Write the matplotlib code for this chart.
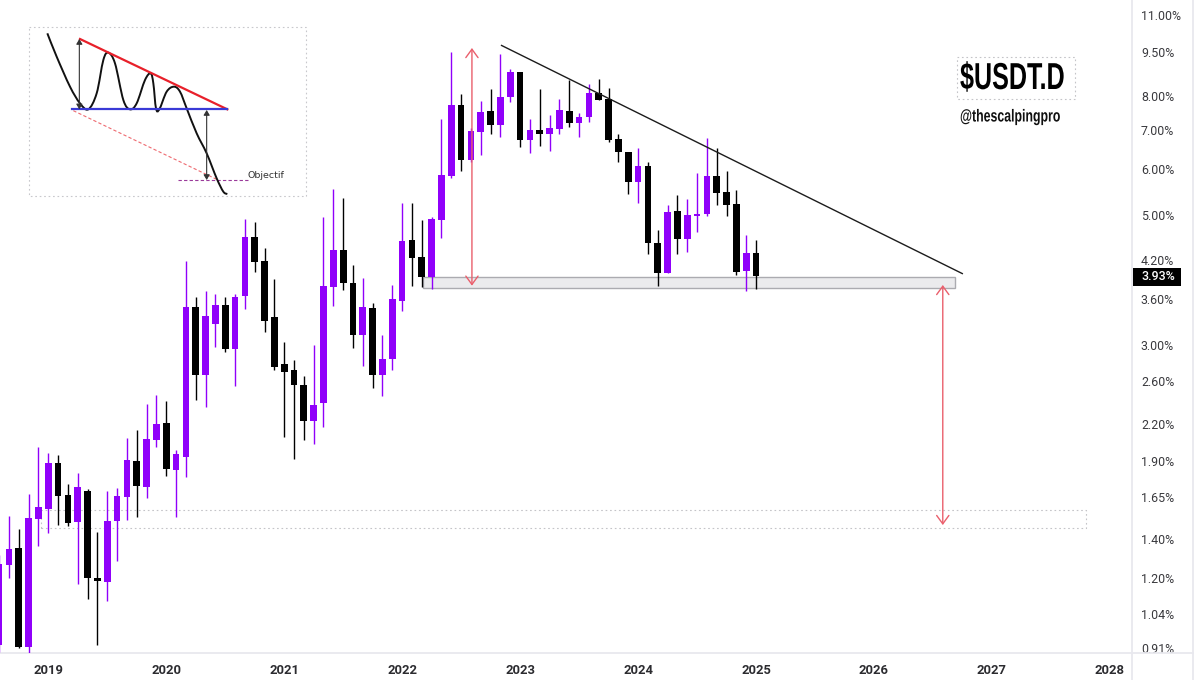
import matplotlib
matplotlib.use("Agg")
import matplotlib.pyplot as plt
import numpy as np
from matplotlib.patches import Rectangle, PathPatch
from matplotlib.path import Path
from matplotlib.patheffects import AbstractPathEffect
from matplotlib.transforms import Affine2D

# Monthly candles, Aug 2018 .. Jan 2025 (percent dominance)
first_month = -5  # months relative to Jan 2019
highs = [1.312,1.530,1.454,1.669,2.008,1.961,1.945,1.735,1.812,1.702,1.437,1.688,1.708,2.080,2.146,2.378,2.464,
         2.406,1.984,4.176,3.623,3.71,3.668,3.623,3.668,4.926,4.869,4.395,3.89,
         3.035,2.828,2.655,3.0,4.964,5.54,5.35,4.11,3.906,3.538,3.12,3.80,
         5.246,5.246,4.907,4.963,7.305,9.51,8.06,7.05,7.84,8.22,9.43,8.89,
         8.79,7.31,8.22,7.42,7.90,8.52,7.48,8.39,8.55,8.25,6.89,6.415,
         6.52,6.17,4.72,5.205,5.415,5.33,5.90,6.78,6.52,5.95,5.52,4.62,4.535]
tops = [1.267,1.343,1.349,1.518,1.585,1.885,1.885,1.662,1.715,1.688,1.198,1.500,1.654,1.907,1.899,2.072,2.198,
        2.207,1.953,3.484,3.484,3.363,3.512,3.512,3.623,4.589,4.589,4.176,3.35,
        2.784,2.718,2.563,2.369,3.785,4.36,4.36,3.83,3.484,3.47,2.839,3.595,
        4.517,4.535,4.242,4.926,5.86,7.72,7.72,6.968,7.51,7.54,7.96,8.79,
        8.79,6.995,6.995,7.05,7.57,7.54,7.36,8.09,8.09,7.90,6.75,6.415,
        6.07,6.07,4.48,5.065,5.085,5.0,5.02,5.84,5.84,5.48,5.225,4.31,4.31]
bottoms = [0.921,1.262,0.914,0.914,1.512,1.572,1.654,1.489,1.494,1.198,1.184,1.180,1.500,1.648,1.722,1.715,2.064,
           1.841,1.834,1.929,2.666,2.666,3.259,2.953,2.953,3.638,4.16,3.297,2.75,
           2.697,2.563,2.224,2.224,2.387,3.77,3.83,3.12,3.12,2.666,2.666,2.839,
           3.567,4.225,3.92,3.92,4.907,5.837,6.215,6.215,6.94,7.14,7.14,7.96,
           6.725,6.725,6.89,6.89,7.02,7.19,7.19,7.36,7.87,6.725,6.415,5.70,
           5.70,4.48,3.985,3.985,4.55,4.55,4.98,5.02,5.46,5.205,4.0,4.015,3.93]
lows = [0.896,1.198,0.910,0.892,1.359,1.431,1.477,1.472,1.170,1.103,0.921,1.095,1.282,1.506,1.524,1.642,2.008,
        1.791,1.524,1.784,2.416,2.35,2.976,2.918,2.553,3.456,3.999,3.157,2.718,
        2.088,1.915,2.064,2.032,2.172,3.498,3.725,2.964,2.762,2.533,2.454,2.718,
        3.43,3.785,3.77,3.74,4.57,5.79,5.95,6.17,6.34,6.89,6.80,7.81,
        6.54,6.39,6.57,6.44,6.89,7.08,6.80,7.22,7.87,6.67,6.17,5.43,
        5.25,4.29,3.785,3.985,4.29,4.325,4.68,4.98,5.205,4.98,3.95,3.71,3.74]
is_up = [1,1,0,1,1,1,0,0,1,0,0,1,1,1,0,1,1,
         0,1,1,0,1,1,0,1,1,0,0,0,
         0,0,0,1,1,1,0,0,1,0,1,1,
         1,0,0,1,1,1,0,1,1,0,1,1,
         0,1,0,1,1,0,1,1,0,0,0,0,
         1,0,0,1,0,1,1,1,0,0,0,1,0]

price_ticks = [11.0,9.5,8.0,7.0,6.0,5.0,4.2,3.6,3.0,2.6,2.2,1.9,1.65,1.4,1.2,1.04,0.91]
year_labels = [2019,2020,2021,2022,2023,2024,2025,2026,2027,2028]
last_price = 3.93

# Overlay levels
trend_x, trend_y = [46.05, 93.05], [9.77, 3.97]
zone = dict(x0=38.1, x1=92.2, lo=3.755, hi=3.92)
target = dict(x0=-0.74, x1=105.6, lo=1.459, hi=1.566)
arrow_a = dict(x=43.1, lo=3.79, hi=9.66)
arrow_b = dict(x=91.0, lo=1.477, hi=3.80)

PURPLE = "#9000fa"
BLACK = "#000000"
GREY = "#e8e8ee"
TXT = "#3a3a3e"
plt.rcParams["font.family"] = ["Roboto", "DejaVu Sans"]


class Squeeze(AbstractPathEffect):
    """Condense a text horizontally about a pixel x, since no condensed face is installed."""

    def __init__(self, x_px, sx):
        super().__init__()
        self.x_px, self.sx = x_px, sx

    def draw_path(self, renderer, gc, tpath, affine, rgbFace=None):
        squeezed = affine + Affine2D().translate(-self.x_px, 0).scale(self.sx, 1).translate(self.x_px, 0)
        renderer.draw_path(gc, tpath, squeezed, rgbFace)


fig = plt.figure(figsize=(12, 6.8), dpi=100, facecolor="white")
ax = fig.add_axes([0, 1 - 653 / 680, 1132 / 1200, 653 / 680])
ax.set_yscale("log")
ax.set_ylim(0.8925, 11.67)
ax.set_xlim(-4.91, 110.25)

months = np.arange(len(highs)) + first_month
cols = [PURPLE if u else BLACK for u in is_up]
ax.vlines(months, lows, highs, colors=cols, lw=1.0, zorder=3)
ax.bar(months, np.maximum(np.array(tops) - np.array(bottoms), 0.01), bottom=bottoms,
       width=0.68, color=cols, linewidth=0, zorder=4)

ax.add_patch(Rectangle((zone["x0"], zone["lo"]), zone["x1"] - zone["x0"], zone["hi"] - zone["lo"],
                       facecolor="#ebebed", edgecolor="#ababb0", lw=1.0, zorder=1.5))
ax.add_patch(Rectangle((target["x0"], target["lo"]), target["x1"] - target["x0"], target["hi"] - target["lo"],
                       facecolor="none", edgecolor="#c4c4c8", lw=0.8, ls=(0, (1.5, 2.5)), zorder=1))
ax.plot(trend_x, trend_y, color="#1c1c1c", lw=1.0, zorder=5, solid_capstyle="butt")
for a in (arrow_a, arrow_b):
    ax.annotate("", xy=(a["x"], a["hi"]), xytext=(a["x"], a["lo"]),
                arrowprops=dict(arrowstyle="<->,head_length=0.55,head_width=0.4", color="#ea5f6c",
                                lw=1.0, shrinkA=0, shrinkB=0, mutation_scale=11), zorder=6)

ax.yaxis.tick_right()
ax.set_yticks(price_ticks)
ax.set_yticklabels([f"{p:.2f}%" for p in price_ticks], fontsize=8.9, color=TXT)
ax.minorticks_off()
ax.tick_params(axis="y", which="both", length=0, pad=6.4)
ax.set_xticks([(y - 2019) * 12 for y in year_labels])
ax.set_xticklabels([str(y) for y in year_labels], fontsize=9.4, color="#2c2c30", fontweight="bold")
ax.tick_params(axis="x", length=0, pad=8)
for s in ("top", "left"):
    ax.spines[s].set_visible(False)
for s in ("right", "bottom"):
    ax.spines[s].set_color(GREY)
    ax.spines[s].set_linewidth(1.3)

# Overlay in image pixels for furniture
ov = fig.add_axes([0, 0, 1, 1], facecolor="none")
ov.set_xlim(0, 1200)
ov.set_ylim(680, 0)
ov.axis("off")
ov.add_patch(Rectangle((1133, 654), 59, 26, facecolor="white", edgecolor="none", zorder=1))
ov.plot([1132, 1132], [653, 680], color=GREY, lw=1.3, zorder=2)
ov.plot([1192.5, 1192.5], [0, 680], color=GREY, lw=1.3, zorder=2)
ov.plot([1132, 1192.5], [653, 653], color=GREY, lw=1.3, zorder=2)

# Last-price tag
ov.add_patch(Rectangle((1133, 268), 48, 18, facecolor="black", edgecolor="none", zorder=3))
ov.text(1141.5, 277, f"{last_price:.2f}%", color="white", fontsize=8.9, va="center", ha="left",
        fontweight="medium", zorder=4)

# Title block
heavy = ["Liberation Sans", "DejaVu Sans"]
ov.add_patch(Rectangle((957, 57), 118, 42, facecolor="none", edgecolor="#c4c4c8", lw=0.8, ls=(0, (1.5, 2.5))))
ov.text(960, 79, "$USDT.D", family=heavy, fontweight="bold", fontsize=27, va="center", ha="left", color="black",
        path_effects=[Squeeze(960, 0.67)])
ov.text(960, 117, "@thescalpingpro", family=heavy, fontweight="bold", fontsize=12.5, va="center", ha="left", color="#111111",
        path_effects=[Squeeze(960, 0.71)])

# Inset schematic, drawn in image pixels
def zx(v): return 20 + np.asarray(v, float) / 3
def zy(v): return 20 + np.asarray(v, float) / 3

ov.add_patch(Rectangle((29, 27), 277, 169, facecolor="white", edgecolor="#c8c8cc", lw=0.8, ls=(0, (1.5, 2.5)), zorder=1))
curve_x = [82,110,150,180,205,230,250,265,285,310,330,350,375,392,400,408,418,440,462,480,500,530,560,590,610,622]
curve_y = [40,110,200,250,268,220,120,98,130,240,268,250,180,160,190,265,268,215,200,215,265,340,400,475,515,522]
pts = np.column_stack([zx(curve_x), zy(curve_y)])
verts = [pts[0]]
codes = [Path.MOVETO]
for i in range(len(pts) - 1):
    p0 = pts[max(i - 1, 0)]; p1 = pts[i]; p2 = pts[i + 1]; p3 = pts[min(i + 2, len(pts) - 1)]
    verts += [p1 + (p2 - p0) / 6, p2 - (p3 - p1) / 6, p2]
    codes += [Path.CURVE4] * 3
ov.add_patch(PathPatch(Path(verts, codes), facecolor="none", edgecolor="#111111", lw=1.4, zorder=4))
ov.plot(zx([180, 622]), zy([57, 268]), color="#e8202a", lw=1.6, zorder=5)
ov.plot(zx([157, 622]), zy([268, 268]), color="#3a3ad6", lw=1.6, zorder=5)
ov.plot(zx([160, 590]), zy([272, 478]), color="#ee6a70", lw=0.8, ls=(0, (3, 2)), zorder=3)
ov.plot(zx([475, 690]), zy([480, 480]), color="#9a3a9a", lw=0.8, ls=(0, (3, 2)), zorder=3)
for zxv, a, b in ((178, 57, 268), (560, 270, 480)):
    ov.annotate("", xy=(zx(zxv), zy(a)), xytext=(zx(zxv), zy(b)),
                arrowprops=dict(arrowstyle="<|-|>,head_length=0.3,head_width=0.18", color="#333333",
                                lw=0.8, shrinkA=0, shrinkB=0, mutation_scale=10), zorder=6)
ov.text(zx(683), zy(465), "Objectif", family="DejaVu Sans", fontsize=6.8, color="#333333", va="center", ha="left", zorder=6)

fig.savefig("out.png", dpi=100)
